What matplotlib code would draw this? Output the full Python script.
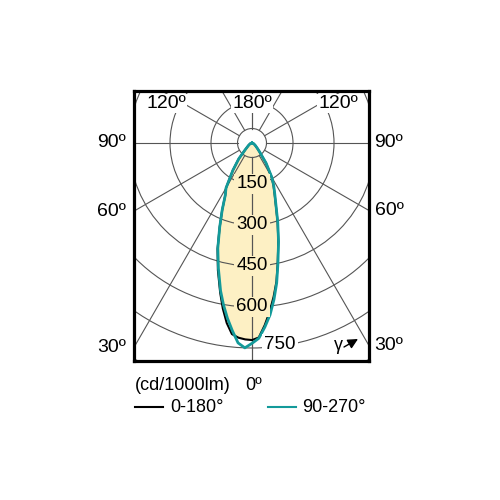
import numpy as np
import matplotlib.pyplot as plt
from matplotlib.patches import Circle

plt.rcParams['font.family'] = ['Liberation Sans', 'DejaVu Sans']

# intensity (cd/1000lm) at these gamma angles
gamma = [0, 2, 4, 6, 8, 10, 12, 15, 18, 21, 24, 27, 30, 35, 40, 45, 55, 70, 90]
c180 = [721, 719, 714, 703, 665, 615, 560, 482, 408, 330, 268, 216, 190, 122, 75, 36, 16, 7, 0]
c0 = [721, 712, 668, 620, 568, 515, 452, 372, 303, 243, 203, 173, 143, 88, 44, 27, 13, 5, 0]
c270 = [733, 750, 733, 690, 647, 601, 553, 475, 405, 330, 268, 216, 190, 122, 75, 36, 16, 7, 0]
c90 = [733, 715, 675, 632, 578, 520, 455, 375, 305, 245, 205, 175, 145, 90, 45, 28, 14, 6, 0]

rings = [150, 300, 450, 600, 750, 900]
ring_labels = ['150', '300', '450', '600', '750']
side_angles = [90, 60, 30]
top_angles = [120, 180]

fill_col = '#FDF0C4'
teal = '#139A9A'
grid_col = '#555555'


def outline(left, right):
    g = np.radians(gamma)
    l = np.array(left)
    r = np.array(right)
    x = np.concatenate([-l[::-1] * np.sin(g[::-1]), r * np.sin(g)])
    y = np.concatenate([-l[::-1] * np.cos(g[::-1]), -r * np.cos(g)])
    return x, y


fig = plt.figure(figsize=(5, 5), dpi=100)
ax = fig.add_axes([0.268, 0.278, 0.47, 0.54])
xmin, xmax = -431.7, 428.0
ymin, ymax = -797.6, 190.2
ax.set_xlim(xmin, xmax)
ax.set_ylim(ymin, ymax)
ax.set_xticks([])
ax.set_yticks([])
for s in ax.spines.values():
    s.set_linewidth(2.3)
    s.set_zorder(10)

# fill
bx, by = outline(c180, c0)
ax.fill(bx, by, color=fill_col, lw=0, zorder=1)

# grid
r0 = 53
ax.add_patch(Circle((0, 0), r0, fill=False, ec=grid_col, lw=0.8, zorder=2))
for rv in rings:
    ax.add_patch(Circle((0, 0), rv, fill=False, ec=grid_col, lw=0.8, zorder=2))
for a in range(0, 181, 30):
    t = np.radians(a)
    for sgn in (-1, 1):
        ax.plot([sgn * r0 * np.sin(t), sgn * 2000 * np.sin(t)],
                [-r0 * np.cos(t), -2000 * np.cos(t)], color=grid_col, lw=0.8, zorder=2)

# curves
ax.plot(bx, by, color='black', lw=1.5, zorder=3)
tx, ty = outline(c270, c90)
ax.plot(tx, ty, color=teal, lw=2.0, zorder=4)

# ring labels
for v, lab in zip(rings, ring_labels):
    if lab == '750':
        ax.text(102, -v + 12, lab, ha='center', va='center', fontsize=13.5, zorder=6,
                bbox=dict(boxstyle='square,pad=0.1', fc='white', ec='none'))
    else:
        ax.text(0, -v, lab, ha='center', va='center', fontsize=13.5, zorder=6,
                bbox=dict(boxstyle='square,pad=0.1', fc=fill_col, ec='none'))

# angle labels outside the frame
for a in side_angles:
    t = np.radians(a)
    yl = xmin * np.cos(t) / np.sin(t)
    yr = -xmax * np.cos(t) / np.sin(t)
    ax.annotate('%dº' % a, (xmin, yl), xytext=(-6, 0), textcoords='offset points',
                ha='right', va='center', fontsize=14, annotation_clip=False)
    ax.annotate('%dº' % a, (xmax, yr), xytext=(4, 0), textcoords='offset points',
                ha='left', va='center', fontsize=14, annotation_clip=False)

# angle labels at the top
for a in top_angles:
    t = np.radians(a)
    if a == 180:
        xs = [0]
    else:
        d = -ymax / np.cos(t) * np.sin(t)
        xs = [-d + 15, d - 15]
    for xv in xs:
        ax.annotate('%dº' % a, (xv, ymax), xytext=(0, -9), textcoords='offset points',
                    ha='center', va='center', fontsize=14, zorder=6,
                    bbox=dict(boxstyle='square,pad=0.05', fc='white', ec='none'))

# gamma arrow
fig.text(338 / 500, 1 - 345 / 500, 'γ', ha='center', va='center', fontsize=13)
ax.annotate('', xy=(358 / 500, 1 - 339 / 500), xytext=(344 / 500, 1 - 347 / 500),
            xycoords='figure fraction', textcoords='figure fraction', zorder=6,
            arrowprops=dict(arrowstyle='-|>', color='black', lw=1, mutation_scale=15,
                            shrinkA=0, shrinkB=0))

# legend text below
fig.text(135 / 500, 1 - 385 / 500, '(cd/1000lm)', ha='left', va='center', fontsize=13)
fig.text(254 / 500, 1 - 385 / 500, '0º', ha='center', va='center', fontsize=13)
fig.add_artist(plt.Line2D([135 / 500, 163 / 500], [1 - 407 / 500] * 2, color='black', lw=1.5))
fig.text(170 / 500, 1 - 407 / 500, '0-180°', ha='left', va='center', fontsize=13)
fig.add_artist(plt.Line2D([268 / 500, 296 / 500], [1 - 407 / 500] * 2, color=teal, lw=1.5))
fig.text(302 / 500, 1 - 407 / 500, '90-270°', ha='left', va='center', fontsize=13)

fig.savefig('out.png', dpi=100)
